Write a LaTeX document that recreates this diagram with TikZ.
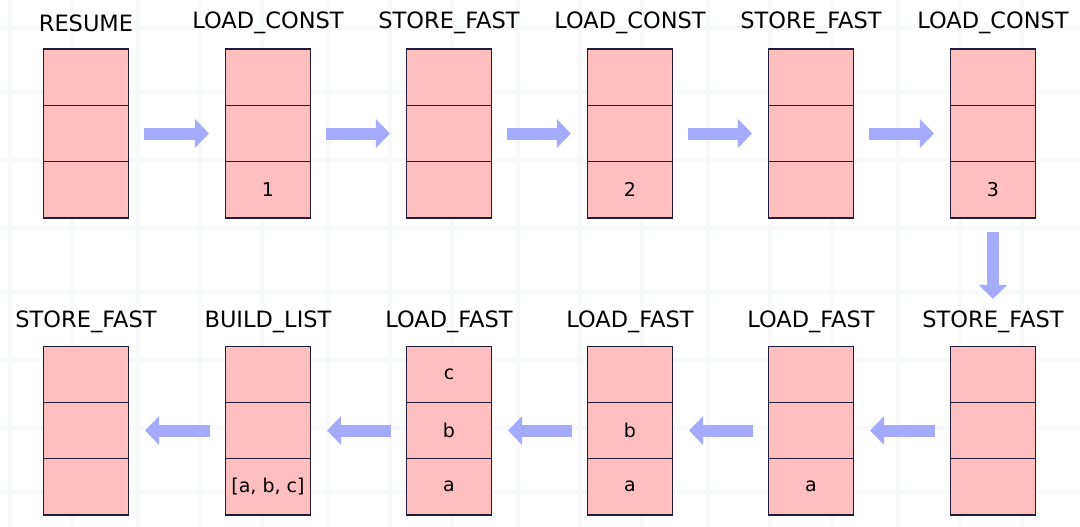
\documentclass[tikz,border=0pt]{standalone}
\usepackage{fontspec}
\setmainfont{DejaVu Sans}
\usetikzlibrary{arrows.meta,positioning}
\definecolor{cellpink}{HTML}{FFBFBF}
\definecolor{celledge}{HTML}{1E1E3C}
\definecolor{flowblue}{HTML}{A3ABFA}
\definecolor{gridtint}{HTML}{F8F9FB}
\tikzset{
    cell/.style = {draw = celledge, fill = cellpink, line width = 1.1pt,
        minimum width = 85pt, minimum height = 56.3pt, inner sep = 0pt,
        font = \fontsize{19pt}{19pt}\selectfont},
    opname/.style = {font = \fontsize{22.5pt}{22.5pt}\selectfont, inner sep = 0pt},
    flow/.style = {draw = flowblue, line width = 12pt,
        -{Triangle[length = 14pt, width = 28pt]}}
}
\begin{document}
\begin{tikzpicture}[
        x = 1pt,
        y = -1pt
    ]
        \useasboundingbox (0, 0) rectangle (1080, 527);
        \fill[white] (0, 0) rectangle (1080, 527);
        % faint background grid
        \foreach \gx in {10, 72, 138, 200, 262, 328, 390, 452, 518, 580, 642, 708, 770, 832, 898, 960, 1022}
            \draw[gridtint, line width = 4pt] (\gx, 0) -- (\gx, 527);
        \foreach \gy in {28, 92, 160, 228, 292, 360, 428, 492}
            \draw[gridtint, line width = 4pt] (0, \gy) -- (1080, \gy);

        % top row: stacks 1..6, left to right
        \foreach \i/\cx/\op/\lo in {1/86/RESUME/{}, 2/268/LOAD\_CONST/1,
                3/449/STORE\_FAST/{}, 4/630/LOAD\_CONST/2,
                5/811/STORE\_FAST/{}, 6/993/LOAD\_CONST/3} {
            \node[cell] (top\i) at (\cx, 77.2) {};
            \node[cell] (mid\i) at (\cx, 133.5) {};
            \node[cell] (bot\i) at (\cx, 189.8) {\lo};
            \node[opname] (op\i) at (\cx, 23) {\op};
        }

        % bottom row: stacks 7..12, right to left
        \foreach \i/\cx/\op/\hi/\md/\lo in {7/993/STORE\_FAST/{}/{}/{},
                8/811/LOAD\_FAST/{}/{}/a, 9/630/LOAD\_FAST/{}/b/a,
                10/449/LOAD\_FAST/c/b/a, 11/268/BUILD\_LIST/{}/{}/{[a, b, c]},
                12/86/STORE\_FAST/{}/{}/{}} {
            \node[cell] (top\i) at (\cx, 374.2) {\hi};
            \node[cell] (mid\i) at (\cx, 430.5) {\md};
            \node[cell] (bot\i) at (\cx, 486.8) {\lo};
            \node[opname] (op\i) at (\cx, 322) {\op};
        }

        % arrows between steps
        \foreach \a/\b in {1/2, 2/3, 3/4, 4/5, 5/6, 7/8, 8/9, 9/10, 10/11, 11/12}
            \draw[flow, shorten < = 15pt, shorten > = 16pt] (mid\a) -- (mid\b);
        \draw[flow, shorten < = 13pt, shorten > = 12pt] (bot6) -- (op7);
    \end{tikzpicture}
\end{document}
